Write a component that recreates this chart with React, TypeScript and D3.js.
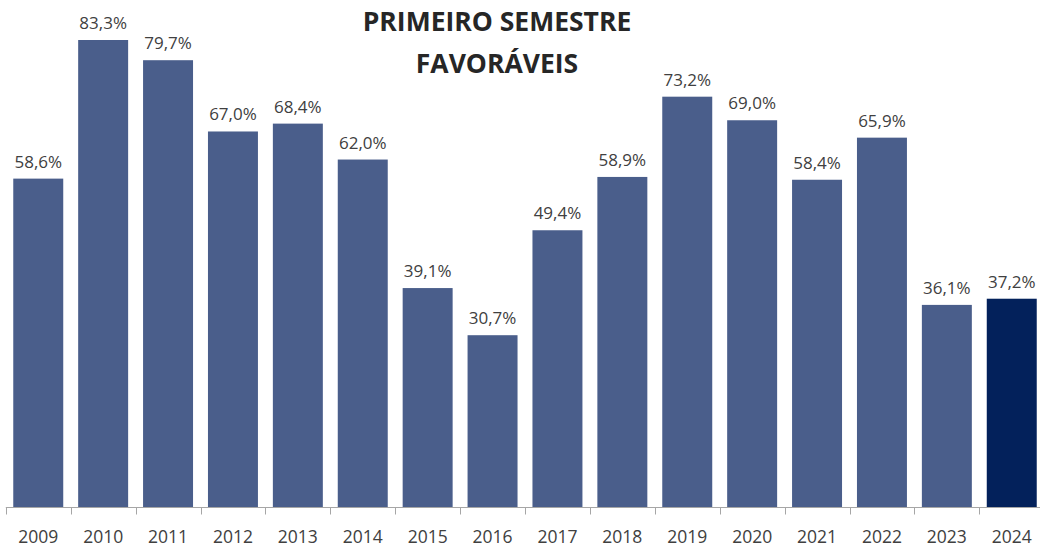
import React, { useEffect, useRef } from 'react';
import * as d3 from 'd3';

const years = ['2009', '2010', '2011', '2012', '2013', '2014', '2015', '2016', '2017', '2018', '2019', '2020', '2021', '2022', '2023', '2024'];
const values = [58.6, 83.3, 79.7, 67.0, 68.4, 62.0, 39.1, 30.7, 49.4, 58.9, 73.2, 69.0, 58.4, 65.9, 36.1, 37.2];
const titleLines = ['PRIMEIRO SEMESTRE', 'FAVORÁVEIS'];

const App = () => {
  const ref = useRef<SVGSVGElement>(null);

  useEffect(() => {
    const width = 1040;
    const height = 547;
    const baseY = 507.5;
    const svg = d3.select(ref.current);
    svg.selectAll('*').remove();

    const x = d3.scaleBand<string>()
      .domain(years)
      .range([5.8, 5.8 + 16 * 64.9])
      .paddingInner(0.23)
      .paddingOuter(0.115);

    const y = d3.scaleLinear().domain([0, 83.3]).range([baseY, 40]);

    const data = years.map((yr, i) => ({ yr, v: values[i] }));
    const fmt = (v: number) => v.toFixed(1).replace('.', ',') + '%';

    svg.selectAll('.bar')
      .data(data)
      .enter()
      .append('rect')
      .attr('x', d => x(d.yr)!)
      .attr('y', d => y(d.v))
      .attr('width', x.bandwidth())
      .attr('height', d => baseY - y(d.v))
      .attr('fill', d => (d.yr === '2024' ? '#03215b' : '#4a5e8b'));

    svg.selectAll('.lbl')
      .data(data)
      .enter()
      .append('text')
      .attr('x', d => x(d.yr)! + x.bandwidth() / 2)
      .attr('y', d => y(d.v) - 11)
      .attr('text-anchor', 'middle')
      .attr('font-family', '"Open Sans", sans-serif')
      .attr('font-size', 17)
      .attr('fill', '#404040')
      .text(d => fmt(d.v));

    // axis line + ticks between categories
    const step = x.step();
    const x0 = x.range()[0];
    svg.append('line')
      .attr('x1', x0).attr('x2', x.range()[1])
      .attr('y1', baseY).attr('y2', baseY)
      .attr('stroke', '#a6a6a6').attr('stroke-width', 1);
    svg.selectAll('.tick')
      .data(d3.range(years.length + 1))
      .enter()
      .append('line')
      .attr('x1', i => Math.round(x0 + i * step) + 0.5)
      .attr('x2', i => Math.round(x0 + i * step) + 0.5)
      .attr('y1', baseY)
      .attr('y2', baseY + 7)
      .attr('stroke', '#a6a6a6');

    svg.selectAll('.yr')
      .data(years)
      .enter()
      .append('text')
      .attr('x', d => x(d)! + x.bandwidth() / 2)
      .attr('y', 543)
      .attr('text-anchor', 'middle')
      .attr('font-family', '"Open Sans", sans-serif')
      .attr('font-size', 17.5)
      .attr('fill', '#404040')
      .text(d => d);

    svg.selectAll('.title')
      .data(titleLines)
      .enter()
      .append('text')
      .attr('x', 497)
      .attr('y', (d, i) => 31 + i * 42)
      .attr('text-anchor', 'middle')
      .attr('font-family', '"Open Sans", sans-serif')
      .attr('font-weight', 'bold')
      .attr('font-size', 26.5)
      .attr('fill', '#262626')
      .text(d => d);

    svg.attr('width', width).attr('height', height);
  }, []);

  return (
    <svg ref={ref} width={1040} height={547}
      style={{ position: 'absolute', left: 0, top: 0, background: '#fff', display: 'block' }} />
  );
};

export default App;
